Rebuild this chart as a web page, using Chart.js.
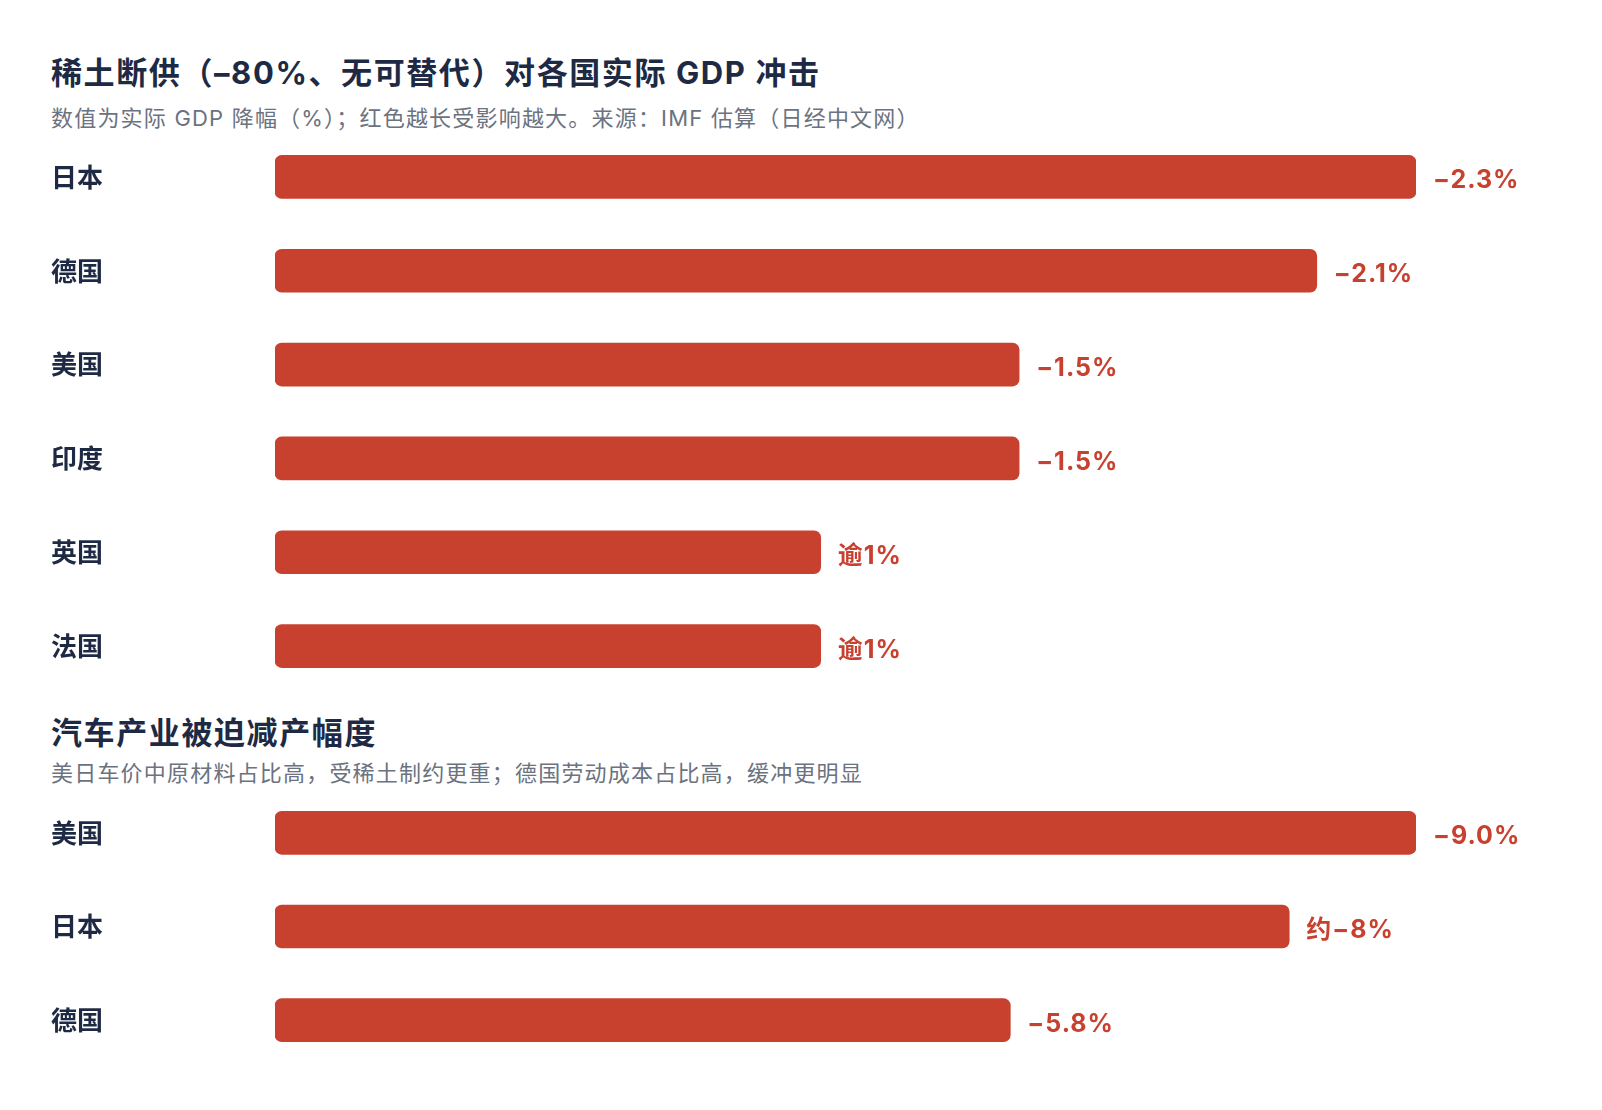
<!DOCTYPE html>
<html>
<head>
<meta charset="utf-8">
<script src="https://cdn.jsdelivr.net/npm/chart.js@4.4.1/dist/chart.umd.min.js"></script>
<style>
  html, body { margin: 0; padding: 0; background: #fff; }
  body { width: 1602px; height: 1110px; position: relative; overflow: hidden;
         font-family: "Inter", "Noto Sans CJK SC", sans-serif; }
  .title { position: absolute; left: 51px; font-size: 31px; font-weight: 700; color: #1e2a44; line-height: 40px; white-space: nowrap; letter-spacing: 1.6px; }
  .sub { position: absolute; left: 51px; font-size: 22px; color: #6b7280; line-height: 28px; white-space: nowrap; letter-spacing: 1.2px; }
  canvas { position: absolute; left: 0; }
</style>
</head>
<body>
<div class="title" style="top:53px">稀土断供（–80%、无可替代）对各国实际 GDP 冲击</div>
<div class="sub" style="top:104px">数值为实际 GDP 降幅（%）；红色越长受影响越大。来源：IMF 估算（日经中文网）</div>
<canvas id="gdpChart" width="1602" height="563" style="top:130px"></canvas>

<div class="title" style="top:713px">汽车产业被迫减产幅度</div>
<div class="sub" style="top:759px">美日车价中原材料占比高，受稀土制约更重；德国劳动成本占比高，缓冲更明显</div>
<canvas id="autoChart" width="1602" height="281" style="top:786px"></canvas>

<script>
// data - GDP impact
const gdpCountries = ["日本", "德国", "美国", "印度", "英国", "法国"];
const gdpValues = [2.3, 2.1, 1.5, 1.5, 1.1, 1.1];
const gdpLabels = ["−2.3%", "−2.1%", "−1.5%", "−1.5%", "逾1%", "逾1%"];

// data - auto production cut
const autoCountries = ["美国", "日本", "德国"];
const autoValues = [9.0, 8.0, 5.8];
const autoLabels = ["−9.0%", "约−8%", "−5.8%"];

const RED = "#c8412f";
const DARK = "#1e2a44";
const FONT = "'Inter', 'Noto Sans CJK SC', sans-serif";

// text after each bar
const valueLabelPlugin = {
    id: "valueLabels",
    afterDatasetsDraw(chart) {
        const ctx = chart.ctx;
        const labels = chart.options.plugins.valueLabels.labels;
        const meta = chart.getDatasetMeta(0);
        ctx.save();
        ctx.font = "700 25px " + FONT;
        ctx.letterSpacing = "1px";
        ctx.fillStyle = RED;
        ctx.textAlign = "left";
        ctx.textBaseline = "middle";
        meta.data.forEach(function (bar, i) {
            ctx.fillText(labels[i], bar.x + 17, bar.y + 4);
        });
        ctx.restore();
    }
};

function makeChart(id, cats, vals, labels, max) {
    return new Chart(document.getElementById(id).getContext("2d"), {
        type: "bar",
        data: {
            labels: cats,
            datasets: [{
                data: vals,
                backgroundColor: RED,
                borderRadius: 7,
                borderSkipped: false,
                barThickness: 43
            }]
        },
        options: {
            indexAxis: "y",
            responsive: false,
            animation: false,
            layout: { padding: { left: 51, right: 186, top: 0, bottom: 0 } },
            scales: {
                x: { display: false, min: 0, max: max },
                y: {
                    grid: { display: false },
                    border: { display: false },
                    ticks: {
                        crossAlign: "far",
                        labelOffset: 2,
                        color: DARK,
                        font: { family: FONT, size: 26, weight: "700" }
                    },
                    afterFit(scale) {
                        scale.width = 224;
                        scale.paddingTop = 0;
                        scale.paddingBottom = 0;
                    }
                }
            },
            plugins: {
                legend: { display: false },
                tooltip: { enabled: false },
                valueLabels: { labels: labels }
            }
        },
        plugins: [valueLabelPlugin]
    });
}

makeChart("gdpChart", gdpCountries, gdpValues, gdpLabels, 2.3);
makeChart("autoChart", autoCountries, autoValues, autoLabels, 9.0);
</script>
</body>
</html>
